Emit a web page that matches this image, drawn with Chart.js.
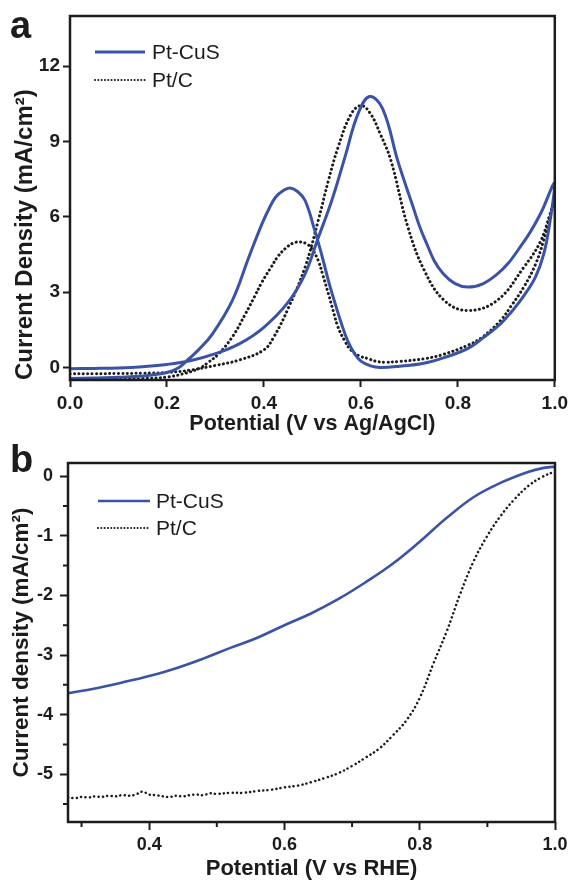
<!DOCTYPE html>
<html>
<head>
<meta charset="utf-8">
<script src="https://cdn.jsdelivr.net/npm/chart.js@4.4.1/dist/chart.umd.min.js"></script>
<style>
  body { margin: 0; background: #fff; }
  #wrap { position: relative; width: 573px; height: 882px; }
  canvas { position: absolute; left: 0; }
  .panel-label {
    position: absolute;
    font: bold 38px "Liberation Sans", Arial, sans-serif;
    line-height: 1;
    color: #1c1c1c;
  }
</style>
</head>
<body>
<div id="wrap">
  <canvas id="cvChart" width="573" height="440" style="top:0"></canvas>
  <canvas id="lsvChart" width="573" height="442" style="top:440px"></canvas>
  <div class="panel-label" style="left:10px;top:6px">a</div>
  <div class="panel-label" style="left:10px;top:440px">b</div>
</div>
<script>
const BLUE = '#3a53a6';
const INK = '#1c1c1c';

// Panel a: CV loops, forward sweep 0 -> 1.0 V then return sweep back to 0.
const cvPotentialPtCuS = [
  0, 0.05, 0.1, 0.15, 0.2, 0.25, 0.3, 0.35, 0.4, 0.45, 0.485, 0.51, 0.54, 0.567, 0.594, 0.618,
  0.645, 0.676, 0.705, 0.73, 0.77, 0.82, 0.88, 0.936, 0.97, 1.0,
  0.99, 0.977, 0.96, 0.936, 0.91, 0.888, 0.85, 0.82, 0.77, 0.73, 0.68, 0.64, 0.62, 0.6, 0.587,
  0.573, 0.56, 0.546, 0.533, 0.519, 0.505, 0.485, 0.47, 0.454, 0.44, 0.424, 0.41, 0.396, 0.37,
  0.335, 0.294, 0.265, 0.246, 0.225, 0.2, 0.15, 0.1, 0.05, 0,
];
const cvCurrentPtCuS = [
  -0.05, -0.04, -0.02, 0.03, 0.12, 0.28, 0.55, 0.95, 1.6, 2.6, 3.73, 5.06, 6.65, 8.37, 10.1, 10.79,
  10.3, 8.24, 6.55, 5.19, 3.73, 3.2, 3.7, 5.0, 6.1, 7.35,
  5.8, 4.5, 3.6, 2.85, 2.2, 1.74, 1.15, 0.75, 0.38, 0.17, 0.05, 0.0, 0.06, 0.25, 0.55,
  1.05, 1.74, 2.6, 3.46, 4.5, 5.45, 6.65, 7.0, 7.15, 7.05, 6.78, 6.3, 5.72, 4.45,
  2.67, 1.34, 0.7, 0.36, 0.0, -0.2, -0.34, -0.39, -0.42, -0.44,
];
const cvPotentialPtC = [
  0, 0.05, 0.1, 0.15, 0.2, 0.25, 0.3, 0.35, 0.4, 0.42, 0.45, 0.485, 0.512, 0.533, 0.553, 0.58,
  0.601, 0.62, 0.64, 0.662, 0.697, 0.731, 0.772, 0.82, 0.881, 0.936, 0.97, 0.99, 1.0,
  0.99, 0.977, 0.96, 0.936, 0.91, 0.888, 0.85, 0.82, 0.77, 0.731, 0.68, 0.649, 0.63, 0.615,
  0.598, 0.58, 0.567, 0.553, 0.543, 0.533, 0.522, 0.512, 0.5, 0.49, 0.475, 0.46, 0.445, 0.43,
  0.415, 0.396, 0.38, 0.362, 0.336, 0.307, 0.285, 0.27, 0.24, 0.2, 0.15, 0.1, 0.05, 0,
];
const cvCurrentPtC = [
  -0.25, -0.25, -0.24, -0.23, -0.2, -0.1, 0.08, 0.3, 0.7, 1.2, 2.35, 4.0, 5.85, 7.44, 8.77, 10.1,
  10.43, 10.1, 9.3, 8.24, 5.59, 3.86, 2.67, 2.27, 2.67, 3.99, 5.0, 6.1, 6.7,
  6.0, 5.06, 4.1, 3.2, 2.45, 1.87, 1.2, 0.88, 0.52, 0.35, 0.24, 0.21, 0.25, 0.35,
  0.45, 0.68, 1.05, 1.6, 2.25, 2.93, 3.65, 4.26, 4.7, 4.9, 5.0, 4.95, 4.75, 4.45,
  4.0, 3.4, 2.8, 2.14, 1.25, 0.55, 0.2, 0.0, -0.22, -0.38, -0.44, -0.46, -0.47, -0.48,
];
const cvXTicks = [0, 0.2, 0.4, 0.6, 0.8, 1.0];
const cvYTicks = [0, 3, 6, 9, 12];

// Panel b: ORR polarisation curves.
const lsvPotentialPtCuS = [
  0.28, 0.32, 0.36, 0.40, 0.44, 0.48, 0.52, 0.56, 0.60, 0.64, 0.68, 0.72, 0.76, 0.80, 0.84,
  0.88, 0.92, 0.96, 0.98, 1.0,
];
const lsvCurrentPtCuS = [
  -3.64, -3.56, -3.46, -3.35, -3.22, -3.06, -2.88, -2.71, -2.50, -2.30, -2.06, -1.78, -1.47,
  -1.10, -0.70, -0.35, -0.11, 0.07, 0.13, 0.16,
];
const lsvPotentialPtC = [
  0.28, 0.29, 0.30, 0.31, 0.32, 0.33, 0.34, 0.35, 0.36, 0.37, 0.38, 0.39, 0.40, 0.41, 0.42, 0.43,
  0.44, 0.45, 0.46, 0.47, 0.48, 0.49, 0.50, 0.52, 0.54, 0.56, 0.58, 0.60, 0.62, 0.64, 0.66, 0.68,
  0.70, 0.72, 0.74, 0.76, 0.78, 0.80, 0.82, 0.84, 0.86, 0.88, 0.90, 0.92, 0.94, 0.96, 0.98, 1.0,
];
const lsvCurrentPtC = [
  -5.39, -5.40, -5.38, -5.39, -5.37, -5.38, -5.36, -5.37, -5.35, -5.36, -5.34, -5.29, -5.34,
  -5.35, -5.37, -5.38, -5.36, -5.37, -5.35, -5.34, -5.35, -5.32, -5.33, -5.31, -5.31, -5.28,
  -5.26, -5.22, -5.19, -5.13, -5.06, -4.98, -4.86, -4.72, -4.57, -4.35, -4.10, -3.72, -3.15,
  -2.60, -1.97, -1.42, -1.00, -0.66, -0.39, -0.17, -0.02, 0.08,
];
const lsvXTicks = [0.4, 0.6, 0.8, 1.0];
const lsvXMinor = [0.3, 0.5, 0.7, 0.9];
const lsvYTicks = [-5, -4, -3, -2, -1, 0];
const lsvYMinor = [-5.5, -4.5, -3.5, -2.5, -1.5, -0.5];

Chart.defaults.font.family = '"Liberation Sans", Arial, sans-serif';
Chart.defaults.color = INK;

const toPoints = (xs, ys) => xs.map((x, i) => ({ x, y: ys[i] }));

// Box round the plot area.
const frameBox = {
  id: 'frameBox',
  afterDatasetsDraw: (chart) => {
    const { ctx, chartArea } = chart;
    ctx.save();
    ctx.strokeStyle = INK;
    ctx.lineWidth = 2.5;
    ctx.strokeRect(chartArea.left, chartArea.top, chartArea.right - chartArea.left, chartArea.bottom - chartArea.top);
    ctx.restore();
  },
};

// Legend drawn inside the plot, top left.
const insideLegend = {
  id: 'insideLegend',
  afterDatasetsDraw: (chart, args, opts) => {
    const { ctx, chartArea } = chart;
    ctx.save();
    ctx.font = opts.font;
    ctx.textBaseline = 'middle';
    chart.data.datasets.forEach((ds, i) => {
      const y = chartArea.top + opts.top + i * opts.rowGap;
      const x0 = chartArea.left + opts.left;
      ctx.beginPath();
      ctx.lineWidth = ds.borderDash ? 2 : ds.borderWidth;
      ctx.strokeStyle = ds.borderColor;
      ctx.setLineDash(ds.borderDash ? [0.1, 3.2] : []);
      ctx.lineCap = ds.borderCapStyle || 'butt';
      ctx.moveTo(x0, y);
      ctx.lineTo(x0 + opts.sampleLength, y);
      ctx.stroke();
      ctx.setLineDash([]);
      ctx.fillStyle = INK;
      ctx.fillText(ds.label, x0 + opts.sampleLength + opts.textGap, y + 1);
    });
    ctx.restore();
  },
};

// Short unlabelled ticks between the major ones.
const minorTicks = {
  id: 'minorTicks',
  afterDraw: (chart, args, opts) => {
    if (!opts.x && !opts.y) return;
    const { ctx, chartArea, scales } = chart;
    ctx.save();
    ctx.strokeStyle = INK;
    ctx.lineWidth = 2;
    ctx.beginPath();
    (opts.x || []).forEach((v) => {
      const px = scales.x.getPixelForValue(v);
      ctx.moveTo(px, chartArea.bottom);
      ctx.lineTo(px, chartArea.bottom + opts.length);
    });
    (opts.y || []).forEach((v) => {
      const py = scales.y.getPixelForValue(v);
      ctx.moveTo(chartArea.left - opts.length, py);
      ctx.lineTo(chartArea.left, py);
    });
    ctx.stroke();
    ctx.restore();
  },
};

const axisGrid = (tickLength) => ({
  display: true,
  drawOnChartArea: false,
  drawTicks: true,
  tickLength,
  tickColor: INK,
  tickWidth: 2,
});

const solidSet = (label, points, width) => ({
  label,
  data: points,
  showLine: true,
  borderColor: BLUE,
  backgroundColor: BLUE,
  borderWidth: width,
  pointRadius: 0,
  tension: 0.4,
});

const dottedSet = (label, points, width, gap) => ({
  label,
  data: points,
  showLine: true,
  borderColor: INK,
  backgroundColor: INK,
  borderWidth: width,
  borderDash: [0.1, gap],
  borderCapStyle: 'round',
  pointRadius: 0,
  tension: 0.4,
});

const fixedTicks = (values) => (scale) => {
  scale.ticks = values.map((value) => ({ value }));
};

new Chart(document.getElementById('cvChart'), {
  type: 'scatter',
  data: {
    datasets: [
      solidSet('Pt-CuS', toPoints(cvPotentialPtCuS, cvCurrentPtCuS), 3),
      dottedSet('Pt/C', toPoints(cvPotentialPtC, cvCurrentPtC), 3, 4.3),
    ],
  },
  options: {
    responsive: false,
    animation: false,
    layout: { padding: { top: 16, right: 15, left: 0, bottom: 0 } },
    plugins: {
      legend: { display: false },
      tooltip: { enabled: false },
      insideLegend: { font: '21px "Liberation Sans", Arial, sans-serif', left: 25, top: 36, rowGap: 28, sampleLength: 50, textGap: 7 },
    },
    scales: {
      x: {
        type: 'linear',
        min: 0,
        max: 1,
        afterBuildTicks: fixedTicks(cvXTicks),
        afterFit: (scale) => { scale.height = 60; },
        grid: axisGrid(7),
        border: { display: false },
        ticks: { font: { size: 19, weight: 'bold' }, padding: 5, color: INK, callback: (v) => v.toFixed(1), maxRotation: 0 },
        title: { display: true, text: 'Potential (V vs Ag/AgCl)', font: { size: 21.5, weight: 'bold' }, color: INK, padding: { top: 0, bottom: 3 } },
      },
      y: {
        type: 'linear',
        min: -0.5,
        max: 14,
        afterBuildTicks: fixedTicks(cvYTicks),
        afterFit: (scale) => { scale.width = 70; },
        grid: axisGrid(7),
        border: { display: false },
        ticks: { font: { size: 19, weight: 'bold' }, padding: 3, color: INK, callback: (v) => String(v) },
        title: { display: true, text: 'Current Density (mA/cm²)', align: 'start', font: { size: 24, weight: 'bold' }, color: INK, padding: { top: 11, bottom: 0 } },
      },
    },
  },
  plugins: [frameBox, insideLegend, minorTicks],
});

new Chart(document.getElementById('lsvChart'), {
  type: 'scatter',
  data: {
    datasets: [
      solidSet('Pt-CuS', toPoints(lsvPotentialPtCuS, lsvCurrentPtCuS), 2.6),
      dottedSet('Pt/C', toPoints(lsvPotentialPtC, lsvCurrentPtC), 2.5, 4.3),
    ],
  },
  options: {
    responsive: false,
    animation: false,
    layout: { padding: { top: 23, right: 18, left: 0, bottom: 0 } },
    plugins: {
      legend: { display: false },
      tooltip: { enabled: false },
      insideLegend: { font: '21px "Liberation Sans", Arial, sans-serif', left: 30, top: 38, rowGap: 27, sampleLength: 52, textGap: 6 },
      minorTicks: { x: lsvXMinor, y: lsvYMinor, length: 5 },
    },
    scales: {
      x: {
        type: 'linear',
        min: 0.28,
        max: 1,
        afterBuildTicks: fixedTicks(lsvXTicks),
        afterFit: (scale) => { scale.height = 60; },
        grid: axisGrid(8),
        border: { display: false },
        ticks: { font: { size: 18, weight: 'bold' }, padding: 4, color: INK, callback: (v) => v.toFixed(1), maxRotation: 0 },
        title: { display: true, text: 'Potential (V vs RHE)', font: { size: 22, weight: 'bold' }, color: INK, padding: { top: 0, bottom: 0 } },
      },
      y: {
        type: 'linear',
        min: -5.8,
        max: 0.22,
        afterBuildTicks: fixedTicks(lsvYTicks),
        afterFit: (scale) => { scale.width = 68; },
        grid: axisGrid(8),
        border: { display: false },
        ticks: { font: { size: 18, weight: 'bold' }, padding: 7, color: INK, callback: (v) => String(v) },
        title: { display: true, text: 'Current density (mA/cm²)', font: { size: 22.5, weight: 'bold' }, color: INK, padding: { top: 8, bottom: 0 } },
      },
    },
  },
  plugins: [frameBox, insideLegend, minorTicks],
});
</script>
</body>
</html>
